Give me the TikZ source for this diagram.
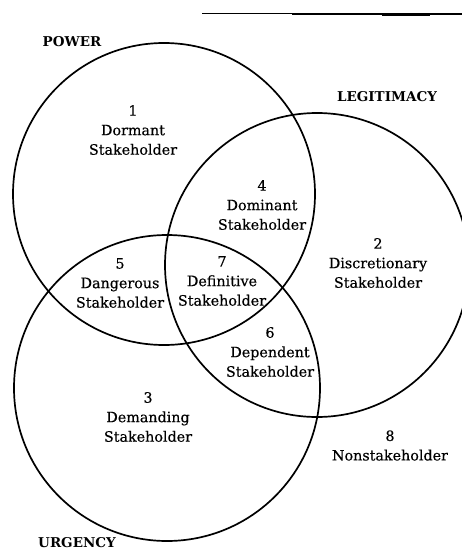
\documentclass[tikz,border=0pt]{standalone}
\usepackage{fontspec}
\setmainfont{DejaVu Serif}
\newfontfamily\bodyfont[FakeBold=0.4]{DejaVu Serif}
\begin{document}
\begin{tikzpicture}[x=1pt,y=-1pt,
  circ/.style={draw=black,line width=1.7pt},
  lbl/.style={align=center,inner sep=0pt,font=\bodyfont\fontsize{14.3}{19.5}\selectfont},
  head/.style={inner sep=0pt,font=\fontsize{13.5}{16}\selectfont\bfseries}]
\useasboundingbox (0,0) rectangle (462,551);
\fill[black] (202,12.7) rectangle (292,13.9);
\fill[black] (292,12.7) rectangle (462,15);
\fill[black] (382,12.7) rectangle (430,16);
\draw[circ] (164,194) circle (151);
\draw[circ] (317,265) circle (152);
\draw[circ] (167,388) circle (153);
\node[head] (pw) at (72,42) {POWER};
\node[head] (lg) at (387,97) {LEGITIMACY};
\node[head] (ur) at (77,543) {URGENCY};
\node[lbl] (n1) at (133,130) {1\\Dormant\\Stakeholder};
\node[lbl] (n4) at (262,205) {4\\Dominant\\Stakeholder};
\node[lbl] (n2) at (378,263) {2\\Discretionary\\Stakeholder};
\node[lbl] (n5) at (120,283) {5\\Dangerous\\Stakeholder};
\node[lbl] (n7) at (222,281) {7\\Definitive\\Stakeholder};
\node[lbl] (n6) at (270,352) {6\\Dependent\\Stakeholder};
\node[lbl] (n3) at (148,417) {3\\Demanding\\Stakeholder};
\node[lbl] (n8) at (390,445.5) {8\\Nonstakeholder};
\end{tikzpicture}
\end{document}
